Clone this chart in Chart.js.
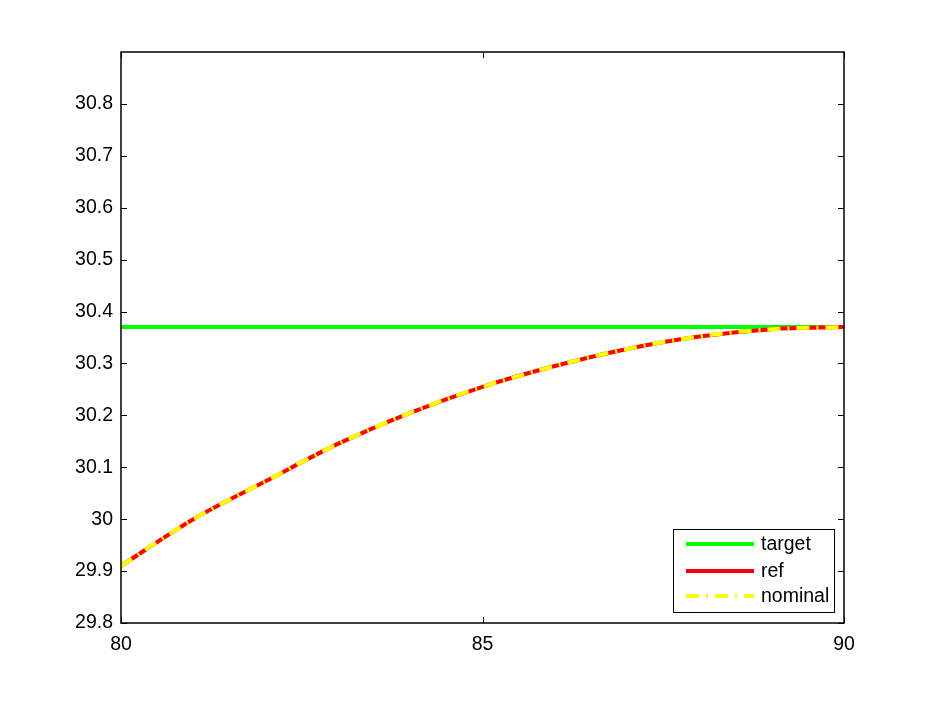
<!DOCTYPE html>
<html>
<head>
<meta charset="utf-8">
<script src="https://cdn.jsdelivr.net/npm/chart.js@4"></script>
<style>
  body { margin: 0; background: #fff; }
  canvas { display: block; }
</style>
</head>
<body>
<canvas id="chart" width="934" height="703"></canvas>
<script>
// values
const xValues = [80, 81, 82, 83, 84, 85, 86, 87, 88, 89, 90];
const targetValues = [30.37, 30.37, 30.37, 30.37, 30.37, 30.37, 30.37, 30.37, 30.37, 30.37, 30.37];
const refValues = [29.91, 30.0, 30.073, 30.145, 30.205, 30.255, 30.295, 30.328, 30.352, 30.366, 30.37];
const nominalValues = [29.91, 30.0, 30.073, 30.145, 30.205, 30.255, 30.295, 30.328, 30.352, 30.366, 30.37];
const xTicks = [80, 85, 90];
const yTicks = [29.8, 29.9, 30, 30.1, 30.2, 30.3, 30.4, 30.5, 30.6, 30.7, 30.8];
const seriesNames = ["target", "ref", "nominal"];

const FONT = "'Liberation Sans', Arial, sans-serif";
const toPoints = (ys) => xValues.map((x, i) => ({ x: x, y: ys[i] }));

// inward ticks, box border and in-plot legend, like matlab
const matlabAxes = {
  id: "matlabAxes",
  afterDatasetsDraw(chart) {
    const { ctx, chartArea: a, scales } = chart;
    ctx.save();
    ctx.strokeStyle = "#000";
    ctx.lineWidth = 1;
    ctx.beginPath();
    xTicks.forEach((v) => {
      const px = Math.round(scales.x.getPixelForValue(v)) + 0.5;
      ctx.moveTo(px, a.bottom); ctx.lineTo(px, a.bottom - 6);
      ctx.moveTo(px, a.top); ctx.lineTo(px, a.top + 6);
    });
    yTicks.forEach((v) => {
      const py = Math.round(scales.y.getPixelForValue(v)) + 0.5;
      ctx.moveTo(a.left, py); ctx.lineTo(a.left + 6, py);
      ctx.moveTo(a.right, py); ctx.lineTo(a.right - 6, py);
    });
    ctx.stroke();
    ctx.lineWidth = 1.5;
    ctx.strokeRect(a.left, a.top, a.right - a.left, a.bottom - a.top);

    // legend
    const bx = 673, by = 529, bw = 161, bh = 83;
    ctx.fillStyle = "#fff";
    ctx.fillRect(bx, by, bw, bh);
    ctx.lineWidth = 1;
    ctx.strokeRect(bx + 0.5, by + 0.5, bw, bh);
    const rows = [544, 571, 596];
    chart.data.datasets.forEach((ds, i) => {
      ctx.beginPath();
      ctx.strokeStyle = ds.borderColor;
      ctx.lineWidth = ds.borderWidth;
      ctx.setLineDash(ds.borderDash || []);
      ctx.moveTo(686, rows[i]);
      ctx.lineTo(754, rows[i]);
      ctx.stroke();
      ctx.setLineDash([]);
      ctx.fillStyle = "#000";
      ctx.font = "19.5px " + FONT;
      ctx.textBaseline = "middle";
      ctx.fillText(seriesNames[i], 761, rows[i] + 1);
    });
    ctx.restore();
  }
};

new Chart(document.getElementById("chart"), {
  type: "line",
  data: {
    datasets: [
      {
        label: seriesNames[0],
        data: toPoints(targetValues),
        borderColor: "#00ff00",
        borderWidth: 4,
        pointRadius: 0,
        tension: 0,
        order: 3
      },
      {
        label: seriesNames[1],
        data: toPoints(refValues),
        borderColor: "#ff0000",
        borderWidth: 4,
        pointRadius: 0,
        cubicInterpolationMode: "monotone",
        order: 2
      },
      {
        label: seriesNames[2],
        data: toPoints(nominalValues),
        borderColor: "#ffff00",
        borderWidth: 4,
        borderDash: [13, 7, 2, 7],
        pointRadius: 0,
        cubicInterpolationMode: "monotone",
        order: 1
      }
    ]
  },
  options: {
    responsive: false,
    animation: false,
    layout: { padding: { top: 52, right: 90, left: 0, bottom: 0 } },
    plugins: {
      legend: { display: false },
      tooltip: { enabled: false }
    },
    scales: {
      x: {
        type: "linear",
        min: 80,
        max: 90,
        afterBuildTicks: (s) => { s.ticks = xTicks.map((v) => ({ value: v })); },
        afterFit: (s) => { s.height = 80; },
        grid: { display: false, drawTicks: false },
        border: { display: false },
        ticks: {
          color: "#000",
          padding: 10,
          maxRotation: 0,
          font: { family: FONT, size: 19.5 }
        }
      },
      y: {
        type: "linear",
        min: 29.8,
        max: 30.9,
        afterBuildTicks: (s) => { s.ticks = yTicks.map((v) => ({ value: v })); },
        afterFit: (s) => { s.width = 121; },
        grid: { display: false, drawTicks: false },
        border: { display: false },
        ticks: {
          color: "#000",
          padding: 8,
          font: { family: FONT, size: 19.5 },
          callback: (v) => String(Math.round(v * 10) / 10)
        }
      }
    }
  },
  plugins: [matlabAxes]
});
</script>
</body>
</html>
